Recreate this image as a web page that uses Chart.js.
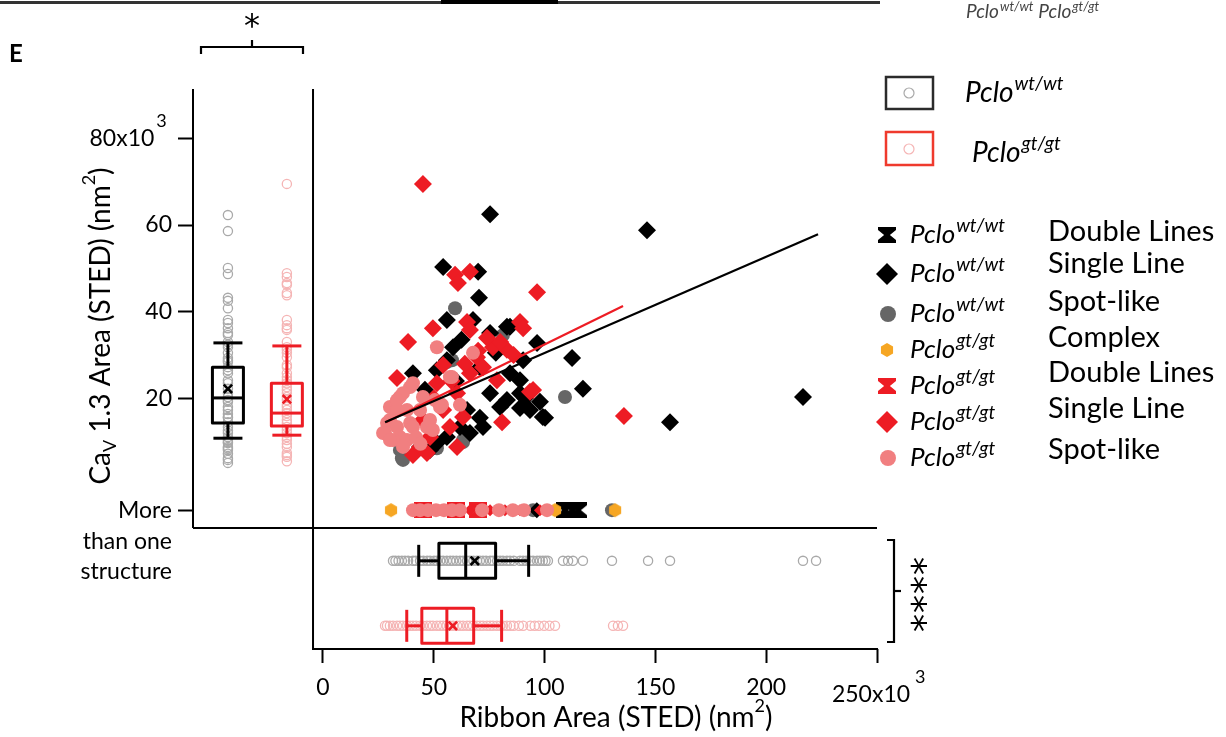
<!DOCTYPE html>
<html><head><meta charset="utf-8">
<script src="https://cdn.jsdelivr.net/npm/chart.js@4.4.1/dist/chart.umd.min.js"></script>
<style>html,body{margin:0;padding:0;background:#fff;overflow:hidden}canvas{display:block}</style>
</head><body>
<canvas id="c" width="1226" height="737"></canvas>
<script>
// ================= DATA =================
const xTickValues = [0, 50, 100, 150, 200, 250];          // Ribbon area, x10^3 nm^2
const yTickValues = [20, 40, 60, 80];                     // CaV1.3 area, x10^3 nm^2
const moreRowValue = -5.8;                                // "More than one structure" row
const moreRowLabel = ['More', 'than one', 'structure'];

// Pclo wt/wt Single Line (black diamonds)
const wtSingleX = [75.4,146.2,216.6,156.6,112.4,117.3,97.9,99.2,54.2,70.0,70.4,96.6,90.3,83.0,55.9,67.7,75.4,84.4,58.7,55.9,40.6,51.4,70.8,84.4,88.9,83.0,79.9,70.8,66.3,61.8,55.9,51.4,48.3,43.8,65.0,72.2,75.4,88.9,93.4,100.2,62.5,78.0,46.0,60.0,91.2,88.9];
const wtSingleY = [62.5,58.8,20.3,14.5,29.3,22.2,19.2,15.7,50.3,49.2,43.2,32.8,28.8,36.5,38.1,38.1,35.1,36.5,31.8,28.8,25.8,26.5,27.2,25.8,21.2,19.6,18.0,15.5,12.0,13.4,11.1,9.7,8.1,8.8,17.3,13.4,21.2,24.2,17.3,15.5,33.5,30.5,22.0,24.0,20.1,17.8];
// Pclo gt/gt Single Line (red diamonds)
const gtSingleX = [45.1,135.8,96.6,59.6,66.3,60.9,49.6,38.4,65.0,66.3,88.9,90.3,76.7,83.0,69.5,54.2,33.4,80.8,93.4,60.5,40.6,51.4,60.5,66.3,72.2,54.2,57.3,48.3,63.2,43.8,46.9,78.5,94.8,86.0,80.0,74.0,70.0,64.0,58.0,50.0,45.0];
const gtSingleY = [69.5,15.9,44.5,48.5,49.2,46.6,36.2,33.0,37.6,35.8,37.6,36.2,31.8,31.2,29.5,27.7,24.7,14.5,21.5,8.8,6.9,23.5,21.2,25.8,27.2,17.3,13.4,11.1,15.7,8.8,7.4,24.2,21.9,30.0,33.0,34.0,31.0,28.0,24.0,20.0,15.0];
// Pclo wt/wt Spot-like (grey circles)
const wtSpotX = [59.6,109.2,81.2,58.2,51.4,35.6,63.2,34.7,36.1,55.9,63.2];
const wtSpotY = [40.8,20.3,34.6,28.8,8.5,6.2,9.9,8.1,5.8,28.4,10.4];
// Pclo gt/gt Spot-like (pink circles)
const gtSpotX = [51.4,67.7,58.2,53.7,61.8,30.2,28.9,28.0,34.7,39.3,43.8,34.7,39.3,33.4,37.9,46.9,50.5,30.2,36.1,40.6,45.1,57.3,52.8,27.1,31.6,36.1,33.4,40.6,48.3,49.6,37.9,33.4,30.2,42.0,44.0];
const gtSpotY = [31.8,30.5,24.9,18.5,18.5,18.0,14.3,12.0,11.1,14.3,17.3,20.3,22.6,17.3,10.4,13.4,19.6,15.0,21.2,23.5,20.3,24.9,18.0,12.0,10.4,8.8,13.4,13.4,15.0,12.7,17.3,19.6,10.4,11.0,9.5];

// "More than one structure" row (ribbon area only)
const moreGtSpotX    = [40.6,43.8,47.4,51.0,54.6,58.2,61.8,71.8,79.4,85.7,90.7,101.1];
const moreGtSingleX  = [52.8,66.3,75.4,82.1,88.9,97.9];
const moreGtDoubleX  = [45.0,60.0,70.0];
const moreWtSpotX    = [94.8,130.4];
const moreWtSingleX  = [96.5];
const moreWtDoubleX  = [109.2,112.4,115.1];
const moreGtComplexX = [30.7,104.7,131.8];

// Linear fits
const wtFitX = [28.0, 223.4], wtFitY = [14.5, 57.9];
const gtFitX = [28.4, 135.4], gtFitY = [14.5, 41.3];

// Marginal distributions
const cavWtPoints = [97.6,62.3,58.6,50.1,48.7,43.2,42.5,40.8,38.1,37.4,36.2,35.1,34.6,33.0,32.4,31.8,30.5,29.3,28.8,28.4,27.2,26.5,25.8,24.2,23.5,22.2,21.2,20.3,19.6,19.2,18.0,17.3,16.4,15.7,15.5,14.5,13.4,12.6,12.0,11.1,10.4,9.9,9.7,8.8,8.5,8.1,7.2,6.2,5.8,5.1];
const cavGtPoints = [69.5,48.9,48.0,46.6,46.2,44.3,43.8,38.1,36.9,36.2,35.8,33.0,31.8,31.2,30.5,29.5,27.7,27.2,25.8,24.9,24.2,23.5,22.6,21.9,21.2,20.3,19.6,18.5,18.0,17.3,16.6,15.9,15.0,14.3,13.4,12.7,12.0,11.1,10.4,9.5,8.8,7.4,6.9,6.5,5.5];
const ribbonWtPoints = [31.6,32.7,34.1,35.6,37.0,38.4,40.6,41.9,43.8,45.3,47.0,48.3,50.1,51.4,52.9,54.2,55.9,57.4,58.7,60.2,61.8,63.2,65.0,66.3,67.9,69.5,70.8,72.2,73.6,75.4,76.7,78.6,79.9,81.2,83.0,84.4,86.1,88.9,90.3,91.7,93.4,94.8,96.6,97.9,99.2,100.4,101.5,108.3,110.6,112.8,117.3,130.4,146.7,156.6,216.6,222.5];
const ribbonGtPoints = [28.0,28.9,30.2,31.6,33.4,34.7,36.1,37.9,39.3,40.6,42.0,43.8,45.1,46.9,48.3,49.6,51.4,52.8,54.2,55.8,57.3,58.7,60.5,61.8,63.2,65.0,66.3,67.7,69.5,70.9,72.2,74.0,75.4,76.7,78.5,80.0,81.2,83.0,84.6,86.0,88.4,90.3,93.6,95.5,97.4,99.8,102.2,104.7,130.9,133.1,135.4];

// Box statistics: [lower whisker, Q1, median, Q3, upper whisker, mean]
const cavWtStats    = [10.8, 14.3, 20.1, 27.2, 32.8, 22.2];
const cavGtStats    = [11.5, 13.6, 16.6, 23.5, 32.1, 19.8];
const ribbonWtStats = [43.2, 52.3, 64.4, 77.9, 92.8, 68.5];
const ribbonGtStats = [37.8, 44.6, 55.9, 68.0, 80.6, 58.6];

// Legend
const legendGenotype = ['wt/wt','wt/wt','wt/wt','gt/gt','gt/gt','gt/gt','gt/gt'];
const legendCategory = ['Double Lines','Single Line','Spot-like','Complex','Double Lines','Single Line','Spot-like'];

// ================= LAYOUT / STYLE =================
const X_MIN = -58.66, X_MAX = 250, Y_MIN = -37.85, Y_MAX = 91.4;
const COL_WT = -42.9, COL_GT = -16.3, ROW_WT = -17.5, ROW_GT = -32.5;
const SPLIT_X = -4.5, SPLIT_Y = -9.9;
const Y_AXIS_W = 130, X_AXIS_H = 70;
const FONT = 'Lato, "Open Sans", sans-serif';
const BLACK = '#000000', RED = '#ed1c24', GREY = '#666666', PINK = '#f17f80', ORANGE = '#f6a623';
const OUT_WT = '#a9a9a9', OUT_GT = '#f5b5b5';
const SUP_PAD = '   ';

function makeHourglass(color, w, h) {
  const c = document.createElement('canvas'); c.width = w; c.height = h;
  const g = c.getContext('2d'); g.fillStyle = color;
  const a = w / 2, b = h / 2, cap = h * 0.18, waist = w * 0.16;
  g.translate(a, b); g.beginPath();
  g.moveTo(-a, -b); g.lineTo(a, -b); g.lineTo(a, -b + cap); g.lineTo(waist, 0);
  g.lineTo(a, b - cap); g.lineTo(a, b); g.lineTo(-a, b); g.lineTo(-a, b - cap);
  g.lineTo(-waist, 0); g.lineTo(-a, -b + cap); g.closePath(); g.fill();
  return c;
}
function makeHexagon(color, r) {
  const s = Math.ceil(2 * r + 2); const c = document.createElement('canvas'); c.width = s; c.height = s;
  const g = c.getContext('2d'); g.fillStyle = color; g.translate(s / 2, s / 2); g.beginPath();
  for (let k = 0; k < 6; k++) { const a = -Math.PI / 2 + k * Math.PI / 3; g.lineTo(r * Math.cos(a), r * Math.sin(a)); }
  g.closePath(); g.fill(); return c;
}
const hgBlack = makeHourglass(BLACK, 18, 16), hgRed = makeHourglass(RED, 18, 16);
const hexOrange = makeHexagon(ORANGE, 7);

const pts = (xs, ys) => xs.map((x, i) => ({ x: x, y: ys[i] }));
const rowPts = (xs, y) => xs.map(x => ({ x: x, y: y }));
const colPts = (ys, x) => ys.map(y => ({ x: x, y: y }));

function scatterSet(data, style, color, radius, order) {
  return { type: 'scatter', data: data, pointStyle: style, pointRadius: radius, pointBackgroundColor: color,
           pointBorderColor: color, pointBorderWidth: 0, order: order, clip: false };
}
function openSet(data, color, order) {
  return { type: 'scatter', data: data, pointStyle: 'circle', pointRadius: 4.6, pointBackgroundColor: 'rgba(0,0,0,0)',
           pointBorderColor: color, pointBorderWidth: 1.3, order: order, clip: false };
}
function lineSet(xs, ys, color, order) {
  return { type: 'line', data: pts(xs, ys), borderColor: color, borderWidth: 2.2, pointRadius: 0, fill: false, order: order, clip: false };
}

const datasets = [
  lineSet(wtFitX, wtFitY, BLACK, 0),
  lineSet(gtFitX, gtFitY, RED, 0),
  scatterSet(pts(gtSpotX, gtSpotY), 'circle', PINK, 7, 2),
  scatterSet(pts(gtSingleX, gtSingleY), 'rectRot', RED, 9, 3),
  scatterSet(pts(wtSingleX, wtSingleY), 'rectRot', BLACK, 9, 4),
  scatterSet(pts(wtSpotX, wtSpotY), 'circle', GREY, 7, 5),
  // more-than-one-structure row
  scatterSet(rowPts(moreGtSpotX, moreRowValue), 'circle', PINK, 7, 2),
  scatterSet(rowPts(moreGtSingleX, moreRowValue), 'rectRot', RED, 6, 3),
  scatterSet(rowPts(moreGtDoubleX, moreRowValue), hgRed, RED, 8, 3),
  scatterSet(rowPts(moreGtComplexX, moreRowValue), hexOrange, ORANGE, 7, 2.5),
  scatterSet(rowPts(moreWtSingleX, moreRowValue), 'rectRot', BLACK, 8, 4),
  scatterSet(rowPts(moreWtDoubleX, moreRowValue), hgBlack, BLACK, 8, 4),
  scatterSet(rowPts(moreWtSpotX, moreRowValue), 'circle', GREY, 7, 5),
  // marginal raw points
  openSet(colPts(cavWtPoints, COL_WT), OUT_WT, 8),
  openSet(colPts(cavGtPoints, COL_GT), OUT_GT, 8),
  openSet(rowPts(ribbonWtPoints, ROW_WT), OUT_WT, 8),
  openSet(rowPts(ribbonGtPoints, ROW_GT), OUT_GT, 8)
];

// ---------- text helpers ----------
function fontOf(p) { return (p.italic ? 'italic ' : '') + (p.bold ? 'bold ' : '') + p.size + 'px ' + FONT; }
function rich(ctx, x, y, parts, align) {
  let w = 0;
  parts.forEach(p => { ctx.font = fontOf(p); p.w = ctx.measureText(p.t).width + (p.gap || 0); w += p.w; });
  let cx = align === 'center' ? x - w / 2 : (align === 'right' ? x - w : x);
  ctx.textAlign = 'left';
  parts.forEach(p => { ctx.font = fontOf(p); ctx.fillText(p.t, cx, y + (p.dy || 0)); cx += p.w; });
}
function pclo(geno, size, supSize, dy) {
  return [{ t: 'Pclo', italic: true, size: size, gap: 1 }, { t: geno, italic: true, size: supSize, dy: dy }];
}
function asterisk(ctx, x, y, size, rot) {
  ctx.save(); ctx.translate(x, y); ctx.rotate(rot || 0);
  ctx.font = size + 'px "DejaVu Sans"'; ctx.textAlign = 'center'; ctx.textBaseline = 'alphabetic';
  const m = ctx.measureText('*');
  const mid = (m.actualBoundingBoxAscent - m.actualBoundingBoxDescent) / 2;
  ctx.fillText('*', 0, mid); ctx.restore();
}
function seg(ctx, x1, y1, x2, y2) { ctx.beginPath(); ctx.moveTo(x1, y1); ctx.lineTo(x2, y2); ctx.stroke(); }
function cross(ctx, x, y, r) { seg(ctx, x - r, y - r, x + r, y + r); seg(ctx, x - r, y + r, x + r, y - r); }

function vBox(ctx, xs, ys, xv, st, color) {
  const cx = xs.getPixelForValue(xv);
  const [lo, q1, md, q3, hi, mn] = st.map(v => ys.getPixelForValue(v));
  const hw = 15.5, cw = 14.5;
  ctx.strokeStyle = color; ctx.lineWidth = 3; ctx.lineCap = 'butt';
  seg(ctx, cx, hi, cx, q3); seg(ctx, cx, q1, cx, lo);
  seg(ctx, cx - cw, hi, cx + cw, hi); seg(ctx, cx - cw, lo, cx + cw, lo);
  ctx.lineJoin = 'round'; ctx.strokeRect(cx - hw, q3, 2 * hw, q1 - q3);
  seg(ctx, cx - hw, md, cx + hw, md);
  ctx.lineWidth = 2.6; cross(ctx, cx, mn, 4.2);
}
function hBox(ctx, xs, ys, yv, st, color) {
  const cy = ys.getPixelForValue(yv);
  const [lo, q1, md, q3, hi, mn] = st.map(v => xs.getPixelForValue(v));
  const hh = 17.5, ch = 16;
  ctx.strokeStyle = color; ctx.lineWidth = 3;
  seg(ctx, lo, cy, q1, cy); seg(ctx, q3, cy, hi, cy);
  seg(ctx, lo, cy - ch, lo, cy + ch); seg(ctx, hi, cy - ch, hi, cy + ch);
  ctx.lineJoin = 'round'; ctx.strokeRect(q1, cy - hh, q3 - q1, 2 * hh);
  seg(ctx, md, cy - hh, md, cy + hh);
  ctx.lineWidth = 2.6; cross(ctx, mn, cy, 4.2);
}

const decor = {
  id: 'decor',
  afterDatasetsDraw(chart) {
    const ctx = chart.ctx, xs = chart.scales.x, ys = chart.scales.y;
    ctx.save();
    vBox(ctx, xs, ys, COL_WT, cavWtStats, BLACK);
    vBox(ctx, xs, ys, COL_GT, cavGtStats, RED);
    hBox(ctx, xs, ys, ROW_WT, ribbonWtStats, BLACK);
    hBox(ctx, xs, ys, ROW_GT, ribbonGtStats, RED);
    ctx.restore();
  },
  afterDraw(chart) {
    const ctx = chart.ctx, xs = chart.scales.x, ys = chart.scales.y, ca = chart.chartArea;
    ctx.save();
    // frame lines
    ctx.strokeStyle = '#000'; ctx.lineWidth = 2;
    const xL = xs.getPixelForValue(X_MIN), xR = xs.getPixelForValue(X_MAX);
    const xS = xs.getPixelForValue(SPLIT_X), yS = ys.getPixelForValue(SPLIT_Y);
    seg(ctx, xL, ca.top, xL, yS);
    seg(ctx, xL, yS, xR, yS);
    seg(ctx, xS, ca.top, xS, ca.bottom + 1);
    seg(ctx, xS - 1, ca.bottom, xR + 1, ca.bottom);

    ctx.fillStyle = '#000'; ctx.textBaseline = 'middle';
    // rest of the "More than one structure" label
    ctx.font = '23px ' + FONT; ctx.textAlign = 'right';
    const yMore = ys.getPixelForValue(moreRowValue);
    ctx.fillText(moreRowLabel[1], 172, yMore + 31);
    ctx.fillText(moreRowLabel[2], 172, yMore + 61);

    // exponent of the top y tick ("80x10" + superscript 3)
    ctx.font = '23px ' + FONT;
    const padW = ctx.measureText(SUP_PAD).width;
    const yLabRight = ys.right - 15 - 6;
    ctx.textAlign = 'left'; ctx.textBaseline = 'alphabetic'; ctx.font = '18px ' + FONT;
    ctx.fillText('3', yLabRight - padW + 2, ys.getPixelForValue(yTickValues[yTickValues.length - 1]) - 11);
    // last x tick label with exponent, drawn slightly lower like the reference
    const x250 = xs.getPixelForValue(xTickValues[xTickValues.length - 1]);
    ctx.font = '23px ' + FONT; ctx.textAlign = 'center'; ctx.textBaseline = 'middle';
    ctx.fillText('250x10', x250 - 6, 695);
    ctx.font = '18px ' + FONT; ctx.textAlign = 'left'; ctx.textBaseline = 'alphabetic';
    ctx.fillText('3', x250 + 38, 683);

    // axis titles
    ctx.textBaseline = 'alphabetic';
    rich(ctx, 616, 727, [{ t: 'Ribbon Area (STED) (nm', size: 28 }, { t: '2', size: 18, dy: -15 }, { t: ')', size: 28 }], 'center');
    ctx.save(); ctx.translate(101, 326); ctx.rotate(-Math.PI / 2);
    ctx.textBaseline = 'middle';
    rich(ctx, 0, 0, [{ t: 'Ca', size: 28 }, { t: 'V', size: 18, dy: 9 }, { t: ' 1.3 Area (STED) (nm', size: 28 }, { t: '2', size: 18, dy: -12 }, { t: ')', size: 28 }], 'center');
    ctx.restore();

    // panel letter
    ctx.font = 'bold 24px ' + FONT; ctx.textAlign = 'left'; ctx.textBaseline = 'alphabetic';
    ctx.fillText('E', 9, 62);

    // significance brackets
    ctx.lineWidth = 2.2;
    ctx.beginPath(); ctx.moveTo(201, 54); ctx.lineTo(201, 47); ctx.lineTo(303, 47); ctx.lineTo(303, 54); ctx.stroke();
    seg(ctx, 252, 47, 252, 40);
    asterisk(ctx, 252, 20, 32, 0);
    ctx.beginPath(); ctx.moveTo(887, 540); ctx.lineTo(894, 540); ctx.lineTo(894, 642); ctx.lineTo(887, 642); ctx.stroke();
    seg(ctx, 894, 591, 901, 591);
    [566, 585, 604, 623].forEach(y => asterisk(ctx, 918, y, 36, Math.PI / 2));

    // remnants of the panel above
    ctx.fillStyle = '#333'; ctx.fillRect(0, 1, 880, 3);
    ctx.fillStyle = '#000'; ctx.fillRect(441, 0, 117, 4);
    ctx.fillStyle = '#444';
    rich(ctx, 966, 18, pclo('wt/wt', 19, 13, -7).concat([{ t: ' ', size: 19 }]).concat(pclo('gt/gt', 19, 13, -7)), 'left');

    // box legend
    ctx.lineWidth = 2.5; ctx.strokeStyle = '#2b2b2b'; ctx.strokeRect(886, 77, 47, 32);
    ctx.strokeStyle = '#ef3a2d'; ctx.strokeRect(886, 132, 47, 33);
    ctx.lineWidth = 1.2;
    ctx.strokeStyle = OUT_WT; ctx.beginPath(); ctx.arc(909, 93, 5, 0, 2 * Math.PI); ctx.stroke();
    ctx.strokeStyle = OUT_GT; ctx.beginPath(); ctx.arc(909, 149, 5, 0, 2 * Math.PI); ctx.stroke();
    ctx.fillStyle = '#000';
    rich(ctx, 965, 102, pclo('wt/wt', 28, 19, -12), 'left');
    rich(ctx, 972, 162, pclo('gt/gt', 28, 19, -12), 'left');

    // scatter legend
    const rowY = [235, 274, 314, 350, 386, 422, 458];
    const labY = [241, 273, 311, 347, 382, 418, 459];
    rowY.forEach((y, i) => {
      const mx = 887;
      if (i === 0) ctx.drawImage(hgBlack, mx - 9, y - 8);
      if (i === 4) ctx.drawImage(hgRed, mx - 9, y - 8);
      if (i === 3) ctx.drawImage(hexOrange, mx - hexOrange.width / 2, y - hexOrange.height / 2);
      if (i === 1 || i === 5) {
        ctx.fillStyle = i === 1 ? BLACK : RED; const r = 11;
        ctx.beginPath(); ctx.moveTo(mx - r, y); ctx.lineTo(mx, y - r); ctx.lineTo(mx + r, y); ctx.lineTo(mx, y + r); ctx.closePath(); ctx.fill();
      }
      if (i === 2 || i === 6) {
        ctx.fillStyle = i === 2 ? GREY : PINK; ctx.beginPath(); ctx.arc(mx + 1, y, 8, 0, 2 * Math.PI); ctx.fill();
      }
      ctx.fillStyle = '#000';
      rich(ctx, 910, y + 8, pclo(legendGenotype[i], 26, 19, -11), 'left');
      ctx.font = '29px ' + FONT; ctx.textAlign = 'left';
      ctx.fillText(legendCategory[i], 1048, labY[i]);
    });
    ctx.restore();
  }
};

new Chart(document.getElementById('c').getContext('2d'), {
  type: 'scatter',
  data: { datasets: datasets },
  options: {
    responsive: false, animation: false, devicePixelRatio: 1,
    events: [],
    layout: { padding: { left: 193 - Y_AXIS_W, top: 89, right: 349, bottom: 88 - X_AXIS_H } },
    plugins: { legend: { display: false }, tooltip: { enabled: false } },
    scales: {
      x: {
        type: 'linear', min: X_MIN, max: X_MAX,
        afterBuildTicks: s => { s.ticks = xTickValues.map(v => ({ value: v })); },
        afterFit: s => { s.height = X_AXIS_H; },
        ticks: { autoSkip: false, maxRotation: 0, padding: 11, color: '#000', font: { family: FONT, size: 23 },
                 callback: v => v === xTickValues[xTickValues.length - 1] ? '' : String(v) },
        grid: { drawOnChartArea: false, drawTicks: true, tickLength: 14, tickWidth: 2, tickColor: '#000' },
        border: { display: false }
      },
      y: {
        type: 'linear', min: Y_MIN, max: Y_MAX,
        afterBuildTicks: s => { s.ticks = [moreRowValue].concat(yTickValues).map(v => ({ value: v })); },
        afterFit: s => { s.width = Y_AXIS_W; },
        ticks: { autoSkip: false, padding: 6, color: '#000', font: { family: FONT, size: 23 },
                 callback: v => v === moreRowValue ? moreRowLabel[0] : (v === 80 ? '80x10' + SUP_PAD : String(v)) },
        grid: { drawOnChartArea: false, drawTicks: true, tickLength: 15, tickWidth: 2, tickColor: '#000' },
        border: { display: false }
      }
    }
  },
  plugins: [decor]
});
</script>
</body></html>
